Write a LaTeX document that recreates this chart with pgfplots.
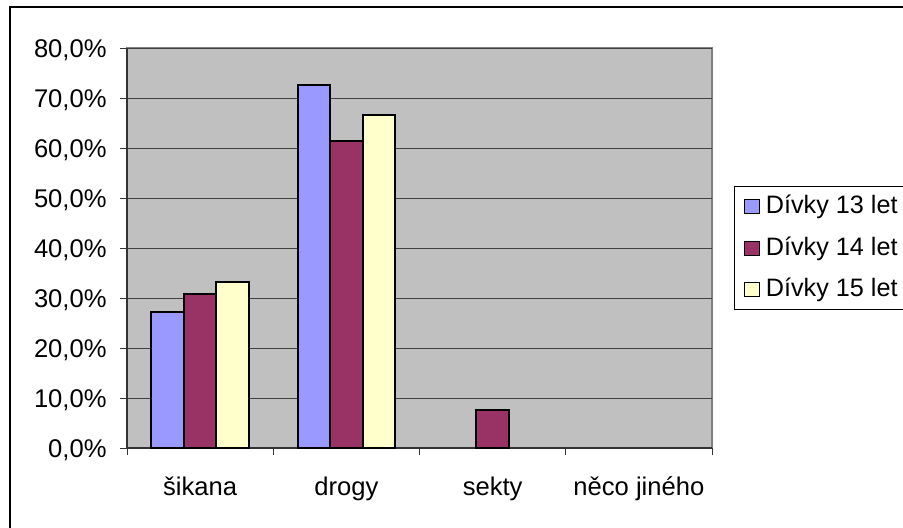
\documentclass[border=0pt]{standalone}
\usepackage{fontspec}
\setmainfont{Liberation Sans}
\usepackage{pgfplots}
\pgfplotsset{compat=1.18}
\definecolor{cA}{HTML}{9999FF}
\definecolor{cB}{HTML}{993366}
\definecolor{cC}{HTML}{FFFFCC}
\definecolor{cbg}{HTML}{C0C0C0}
\pgfplotsset{sqlegend/.style={legend image code/.code={\draw[##1, line width=0.5pt] (0pt,-3.5pt) rectangle (7.5pt,3.5pt);}}}
\begin{document}
\fontsize{12.8}{15.4}\selectfont
\begin{tikzpicture}
\useasboundingbox (0,0) rectangle (451.5pt,263.5pt);
\draw[line width=0.75pt] (5pt,-20pt) -- (5pt,260pt) -- (480pt,260pt);
\begin{axis}[
  at={(63.5pt,39.5pt)}, anchor=south west,
  scale only axis, width=292.5pt, height=200pt,
  font=\fontsize{12.8}{15.4}\selectfont,
  ybar=0pt, bar width=16.25pt,
  xmin=-0.5, xmax=3.5, ymin=0, ymax=80,
  axis x line=bottom, axis y line=left,
  axis line style={-, draw=black!80, line width=0.6pt},
  axis background/.style={fill=cbg, draw=gray, line width=0.6pt},
  tick align=outside, major tick length=3.5pt,
  tick style={black!80, line width=0.5pt},
  xtick={-0.5,0.5,1.5,2.5,3.5}, xticklabels={},
  extra x ticks={0,1,2,3},
  extra x tick labels={šikana,drogy,sekty,něco jiného},
  extra x tick style={tick style={draw=none}, grid=none,
    tick label style={anchor=base, inner sep=0pt, yshift=-20pt}},
  ytick={0,10,...,80},
  yticklabels={{0,0\%},{10,0\%},{20,0\%},{30,0\%},{40,0\%},{50,0\%},{60,0\%},{70,0\%},{80,0\%}},
  yticklabel style={anchor=base east, inner sep=0pt, xshift=-6.5pt, yshift=-4.6pt},
  ymajorgrids, major grid style={black!75, line width=0.5pt},
  legend cell align=left,
  legend style={at={(1,0.5)}, anchor=west, xshift=11pt, draw=black, line width=0.5pt, fill=white,
    inner xsep=4.5pt, inner ysep=4.3pt, row sep=9.6pt,
    nodes={inner sep=0pt},
    /tikz/every odd column/.append style={column sep=3.2pt},
    font=\fontsize{12.6}{15.4}\selectfont},
]
\addplot[fill=cA, draw=black, line width=1pt, sqlegend] coordinates {(0,27.3) (1,72.7)};
\addplot[fill=cB, draw=black, line width=1pt, sqlegend] coordinates {(0,30.8) (1,61.5) (2,7.7)};
\addplot[fill=cC, draw=black, line width=1pt, sqlegend] coordinates {(0,33.3) (1,66.7)};
\legend{Dívky 13 let, Dívky 14 let, Dívky 15 let}
\end{axis}
\end{tikzpicture}
\end{document}
